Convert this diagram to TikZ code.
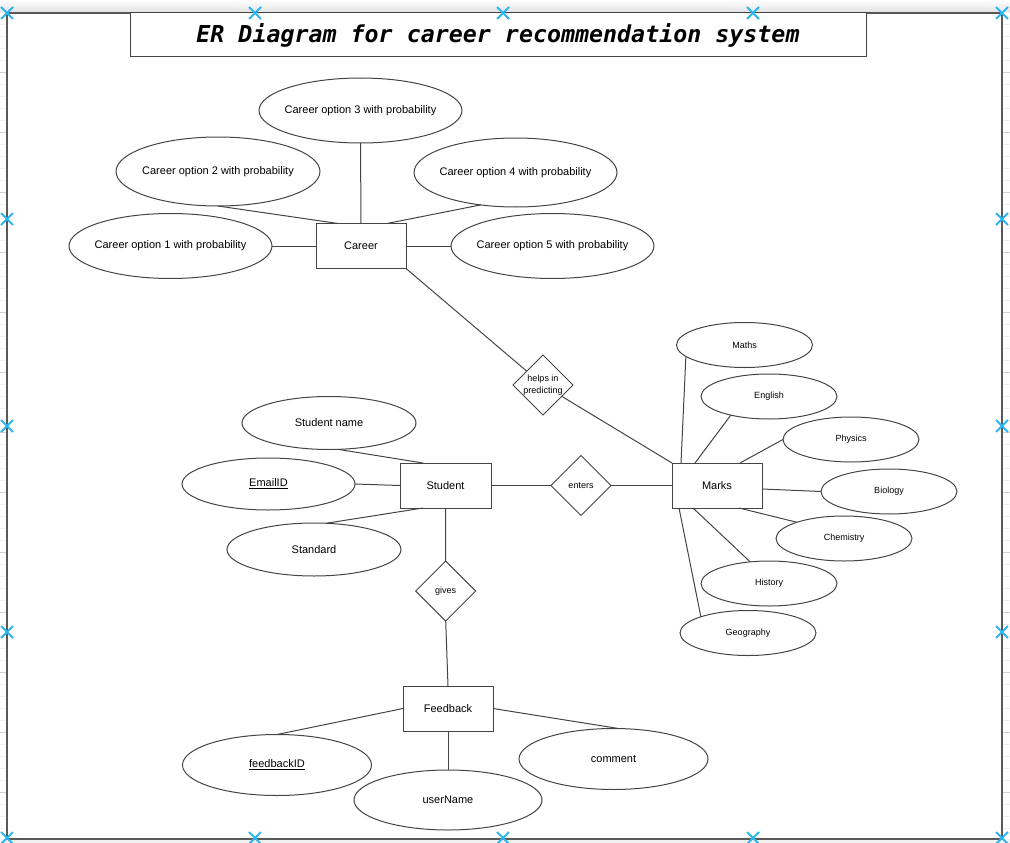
\documentclass[tikz,border=0pt]{standalone}
\usepackage{fontspec}
\setmainfont{Liberation Sans}
\newfontfamily\titlefont{DejaVu Sans Mono}
\usetikzlibrary{shapes.geometric}
\definecolor{edge}{HTML}{444444}
\definecolor{handle}{HTML}{29B6F2}
\newcommand\mycl[1]{\makebox[0pt]{#1}}
\begin{document}
\begin{tikzpicture}[x=1pt,y=-1pt,
  every node/.style={inner sep=0pt, outer sep=0pt, text=black},
  ent/.style={draw=edge, line width=1pt, rectangle, minimum width=90pt, minimum height=45pt, font=\fontsize{11}{13}\selectfont},
  attr/.style={draw=edge, line width=1pt, ellipse, font=\fontsize{11}{13}\selectfont},
  sattr/.style={attr, minimum width=136pt, minimum height=45pt, font=\fontsize{9}{11}\selectfont},
  rel/.style={draw=edge, line width=1pt, diamond, minimum width=60pt, minimum height=60pt, font=\fontsize{9}{12}\selectfont},
  conn/.style={draw=edge, line width=1pt},
  handlex/.style={draw=handle, line width=1.8pt},
  framebox/.style={draw=gray!70!black, line width=1.3pt}
]
\useasboundingbox (0,0) rectangle (1010,843);
% canvas margins
\shade[top color=white, bottom color=gray!22] (0,0) rectangle (1010,12);
\fill[gray!12] (0,839) rectangle (1010,843);
\foreach \k in {0,...,69} {
  \draw[gray!12, line width=0.6pt] (0,{12+12*\k}) -- (6,{12+12*\k});
  \draw[gray!12, line width=0.6pt] (1003,{12+12*\k}) -- (1010,{12+12*\k});
}
\foreach \k in {1,...,13} {
  \draw[gray!35, line width=0.8pt] (0,{12+60*\k}) -- (6,{12+60*\k});
  \draw[gray!35, line width=0.8pt] (1003,{12+60*\k}) -- (1010,{12+60*\k});
}
\draw[framebox] (7,13) rectangle (1002,839);

% title
\node[draw=edge, line width=1pt, fill=white, minimum width=736pt, minimum height=44pt,
  font=\fontsize{23.3}{26}\titlefont\bfseries\itshape] (title) at (498,35)
  {ER Diagram for career recommendation system};

% Career
\node[ent] (career) at (361,246) {Career};
\node[attr, minimum width=203pt, minimum height=65pt] (opt1) at (170.5,246) {\mycl{Career option 1 with probability}};
\node[attr, minimum width=204pt, minimum height=69pt] (opt2) at (218,171.5) {\mycl{Career option 2 with probability}};
\node[attr, minimum width=203pt, minimum height=65pt] (opt3) at (360.5,110.5) {\mycl{Career option 3 with probability}};
\node[attr, minimum width=203pt, minimum height=69pt] (opt4) at (515.5,172.5) {\mycl{Career option 4 with probability}};
\node[attr, minimum width=203pt, minimum height=65pt] (opt5) at (552.5,246) {\mycl{Career option 5 with probability}};

\draw[conn] (opt1.east) -- (career.west);
\draw[conn] (opt5.west) -- (career.east);
\draw[conn] (opt3.south) -- (career.north);
\draw[conn] (opt2.south) -- ([xshift=22pt]career.north west);
\draw[conn] (opt4.223) -- ([xshift=71pt]career.north west);

% relationships
\node[rel] (helps) at (543,385) {\mycl{\begin{tabular}{@{}c@{}}helps in\\predicting\end{tabular}}};
\node[rel] (enters) at (581,485.5) {\mycl{enters}};
\node[rel] (gives) at (445.7,591) {\mycl{gives}};

% Student
\node[ent, minimum width=91pt] (student) at (445.5,485.5) {Student};
\node[attr, minimum width=174pt, minimum height=53pt] (sname) at (329,423) {\mycl{Student name}};
\node[attr, minimum width=173pt, minimum height=52pt] (email) at (268.5,484) {\mycl{\underline{EmailID}}};
\node[attr, minimum width=174pt, minimum height=53pt] (standard) at (314,549.5) {\mycl{Standard}};

\draw[conn] (sname.289) -- ([xshift=23pt]student.north west);
\draw[conn] (email.east) -- (student.west);
\draw[conn] (standard.65) -- ([xshift=23pt]student.south west);

% Marks
\node[ent] (marks) at (717,485.5) {Marks};
\node[sattr] (maths) at (744.5,345) {\mycl{Maths}};
\node[sattr] (english) at (769,396.5) {\mycl{English}};
\node[sattr] (physics) at (851,439.5) {\mycl{Physics}};
\node[sattr] (biology) at (889,491.5) {\mycl{Biology}};
\node[sattr] (chemistry) at (844,538.5) {\mycl{Chemistry}};
\node[sattr] (history) at (769,583.5) {\mycl{History}};
\node[sattr] (geography) at (748,633) {\mycl{Geography}};

\draw[conn] (maths.191) -- ([xshift=9pt]marks.north west);
\draw[conn] (english.206) -- ([xshift=23pt]marks.north west);
\draw[conn] (physics.west) -- ([xshift=68pt]marks.north west);
\draw[conn] (biology.west) -- ([yshift=-3.5pt]marks.east);
\draw[conn] (chemistry.161) -- ([xshift=67pt]marks.south west);
\draw[conn] (history.131) -- ([xshift=21pt]marks.south west);
\draw[conn] (geography.161) -- ([xshift=7pt]marks.south west);

% Feedback
\node[ent] (feedback) at (448,708.5) {Feedback};
\node[attr, minimum width=189pt, minimum height=61pt] (fid) at (277,765) {\mycl{\underline{feedbackID}}};
\node[attr, minimum width=188pt, minimum height=60pt] (uname) at (448,800) {\mycl{userName}};
\node[attr, minimum width=189pt, minimum height=61pt] (comment) at (613.5,759) {\mycl{comment}};

\draw[conn] (feedback.west) -- (fid.north);
\draw[conn] (feedback.south) -- (uname.north);
\draw[conn] (feedback.east) -- (comment.80);

% relationship connectors
\draw[conn] (career.south east) -- (helps);
\draw[conn] (helps) -- (marks.north west);
\draw[conn] (student.east) -- (enters.west);
\draw[conn] (enters.east) -- (marks.west);
\draw[conn] (student.south) -- (gives.north);
\draw[conn] (gives.south) -- (feedback.north);

% selection handles
\foreach \x/\y in {7/13, 255/13, 503/13, 753/13, 1002/13, 7/219, 1002/219, 7/426, 1002/426, 7/632, 1002/632, 7/838, 255/838, 503/838, 753/838, 1002/838} {
  \draw[handlex] (\x-6,\y-6) -- (\x+6,\y+6) (\x-6,\y+6) -- (\x+6,\y-6);
}
\end{tikzpicture}
\end{document}
